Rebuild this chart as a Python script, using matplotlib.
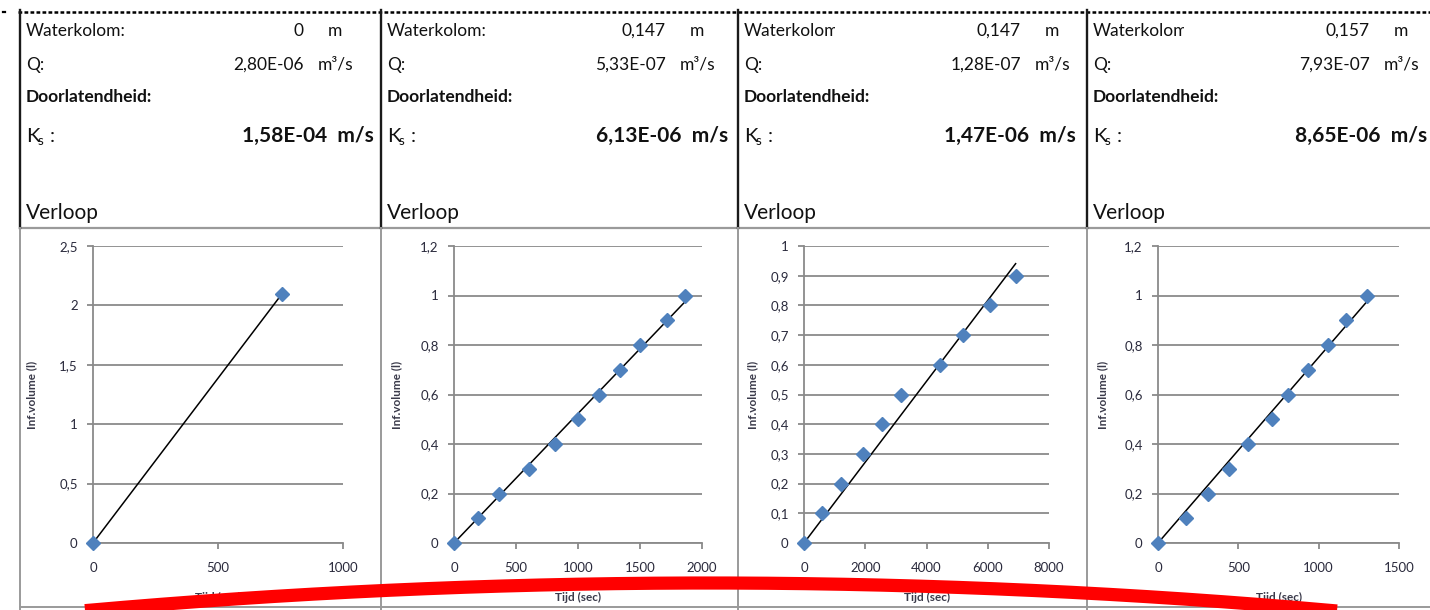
import numpy as np
import matplotlib
matplotlib.use("Agg")
import matplotlib.pyplot as plt
from matplotlib.lines import Line2D
from matplotlib.patches import Rectangle
from matplotlib.ticker import MultipleLocator, FuncFormatter
from matplotlib.transforms import ScaledTranslation

# ---- measurement data -------------------------------------------------
waterkolom = ["0", "0,147", "0,147", "0,157"]
debiet_q = ["2,80E-06", "5,33E-07", "1,28E-07", "7,93E-07"]
ks_values = ["1,58E-04", "6,13E-06", "1,47E-06", "8,65E-06"]

tijd_1 = [0, 757]
vol_1 = [0, 2.1]
tijd_2 = [0, 196, 363, 605, 816, 1004, 1171, 1340, 1497, 1720, 1865]
vol_2 = [0, 0.1, 0.2, 0.3, 0.4, 0.5, 0.6, 0.7, 0.8, 0.9, 1.0]
tijd_3 = [0, 590, 1200, 1930, 2550, 3160, 4425, 5180, 6080, 6910]
vol_3 = [0, 0.1, 0.2, 0.3, 0.4, 0.5, 0.6, 0.7, 0.8, 0.9]
tijd_4 = [0, 174, 309, 440, 558, 709, 812, 932, 1055, 1170, 1299]
vol_4 = [0, 0.1, 0.2, 0.3, 0.4, 0.5, 0.6, 0.7, 0.8, 0.9, 1.0]

x_max = [1000, 2000, 8000, 1500]
x_step = [500, 500, 2000, 500]
y_max = [2.5, 1.2, 1.0, 1.2]
y_step = [0.5, 0.2, 0.1, 0.2]

series = [(tijd_1, vol_1), (tijd_2, vol_2), (tijd_3, vol_3), (tijd_4, vol_4)]

# ---- figure -----------------------------------------------------------
W, H = 1430, 610
fig = plt.figure(figsize=(W / 100, H / 100), dpi=100)
fig.patch.set_facecolor("white")

FONT = "Lato"
TXT = "#111111"
GRID = "#8a8a8a"
TICKC = "#2a2a3c"
MARK = "#4f81bd"


def fx(x):
    return x / W


def fy(y):
    return 1 - y / H


def hline(x0, x1, y, **kw):
    fig.add_artist(Line2D([fx(x0), fx(x1)], [fy(y), fy(y)], transform=fig.transFigure, **kw))


def vline(x, y0, y1, **kw):
    fig.add_artist(Line2D([fx(x), fx(x)], [fy(y0), fy(y1)], transform=fig.transFigure, **kw))


# sheet borders
hline(18, W, 12, color="black", lw=1.8, linestyle=(0, (1.5, 0.9)))
hline(3, 5, 12, color="black", lw=1.6)
hline(20, W, 228, color="#9a9a9a", lw=1.6)
hline(20, W, 607, color="#9a9a9a", lw=1.4)
for xb in [20, 381, 738, 1087]:
    vline(xb, 10, 228, color="#1a1a1a", lw=1.7)
    vline(xb, 228, 610, color="#9a9a9a", lw=1.4)

# ---- header cells -----------------------------------------------------
col_left = [26, 387, 744, 1093]
val_right = [304, 666, 1021, 1370]
unit_left = [318, 680, 1035, 1384]
ks_right = [374, 728, 1076, 1427]
label_clip = [None, None, 835, 1184]

for i in range(4):
    xl = col_left[i]
    t = fig.text(fx(xl), fy(31), "Waterkolom:", fontsize=12.5, family=FONT,
                 color=TXT, va="center", ha="left")
    if label_clip[i] is not None:
        clip = Rectangle((fx(xl - 4), fy(50)), fx(label_clip[i] - xl + 4), 40 / H,
                         transform=fig.transFigure, visible=False)
        fig.add_artist(clip)
        t.set_clip_path(clip)
    fig.text(fx(val_right[i]), fy(31), waterkolom[i], fontsize=12.5, family=FONT,
             color=TXT, va="center", ha="right")
    fig.text(fx(unit_left[i] + 10), fy(31), "m", fontsize=12.5, family=FONT,
             color=TXT, va="center", ha="left")

    fig.text(fx(xl), fy(65), "Q:", fontsize=12.5, family=FONT, color=TXT,
             va="center", ha="left")
    fig.text(fx(val_right[i]), fy(65), debiet_q[i], fontsize=12.5, family=FONT,
             color=TXT, va="center", ha="right")
    fig.text(fx(unit_left[i]), fy(65), "m³/s", fontsize=12.5, family=FONT,
             color=TXT, va="center", ha="left")

    fig.text(fx(xl), fy(97), "Doorlatendheid:", fontsize=12.5, family=FONT,
             weight="bold", color=TXT, va="center", ha="left")

    fig.text(fx(xl), fy(136), "K", fontsize=14.5, family=FONT, color=TXT,
             va="center", ha="left")
    fig.text(fx(xl + 12), fy(141), "s", fontsize=9.5, family=FONT, color=TXT,
             va="center", ha="left")
    fig.text(fx(xl + 24), fy(136), ":", fontsize=14.5, family=FONT, color=TXT,
             va="center", ha="left")
    fig.text(fx(ks_right[i]), fy(136), f"{ks_values[i]}  m/s", fontsize=15,
             family=FONT, weight="bold", color=TXT, va="center", ha="right")

    fig.text(fx(xl), fy(213), "Verloop", fontsize=15, family=FONT, color=TXT,
             va="center", ha="left")

# ---- charts -----------------------------------------------------------
ax_x0 = [93, 454, 804, 1158]
ax_x1 = [343, 702, 1049, 1399]
ax_top, ax_bot = 246, 543
ylab_dx = [61, 57, 51, 55]


def comma(v, _pos):
    s = f"{v:.1f}".rstrip("0").rstrip(".")
    return s.replace(".", ",")


for i in range(4):
    ax = fig.add_axes([fx(ax_x0[i]), fy(ax_bot), (ax_x1[i] - ax_x0[i]) / W,
                       (ax_bot - ax_top) / H])
    ax.set_facecolor("none")
    ax.set_xlim(0, x_max[i])
    ax.set_ylim(0, y_max[i])
    ax.xaxis.set_major_locator(MultipleLocator(x_step[i]))
    ax.yaxis.set_major_locator(MultipleLocator(y_step[i]))
    ax.yaxis.set_major_formatter(FuncFormatter(comma))
    ax.xaxis.set_major_formatter(FuncFormatter(lambda v, p: f"{v:.0f}"))
    for side in ["top", "right"]:
        ax.spines[side].set_visible(False)
    for side in ["left", "bottom"]:
        ax.spines[side].set_color(GRID)
        ax.spines[side].set_linewidth(1.3)
    ax.grid(axis="y", color=GRID, lw=1.3)
    ax.set_axisbelow(True)
    ax.tick_params(axis="both", direction="out", length=4, width=1.3, color=GRID,
                   labelsize=9.5, labelcolor=TICKC)
    ax.tick_params(axis="y", pad=7)
    ax.tick_params(axis="x", pad=10)
    for lab in ax.get_xticklabels() + ax.get_yticklabels():
        lab.set_family(FONT)

    t, v = np.asarray(series[i][0], float), np.asarray(series[i][1], float)
    slope = np.sum(t * v) / np.sum(t * t)
    xs = np.array([0, t.max()])
    ax.plot(xs, slope * xs, color="black", lw=1.1, zorder=3, clip_on=False)
    ax.plot(t, v, linestyle="none", marker="D", ms=7.5, color=MARK, mec=MARK,
            zorder=4, clip_on=False)

    off = ScaledTranslation(-ylab_dx[i] / 100, 0, fig.dpi_scale_trans)
    ax.text(0, 0.5, "Inf.volume (l)", transform=ax.transAxes + off, rotation=90,
            fontsize=8.5, family=FONT, weight="bold", color="#3a3a4a",
            va="center", ha="center")
    offx = ScaledTranslation(0, -54 / 100, fig.dpi_scale_trans)
    ax.text(0.5, 0, "Tijd (sec)", transform=ax.transAxes + offx, fontsize=8.5,
            family=FONT, weight="bold", color="#3a3a4a", va="center", ha="center")

# ---- red hand-drawn arc -------------------------------------------------
xs = np.linspace(85, 1345, 300)
ys = 583 + 7.1e-5 * (xs - 709) ** 2
fig.add_artist(Line2D(fx(xs), fy(ys), transform=fig.transFigure, color="#ff0000",
                      lw=9.5, solid_capstyle="butt", zorder=20))

fig.savefig("out.png", dpi=100, facecolor="white")
